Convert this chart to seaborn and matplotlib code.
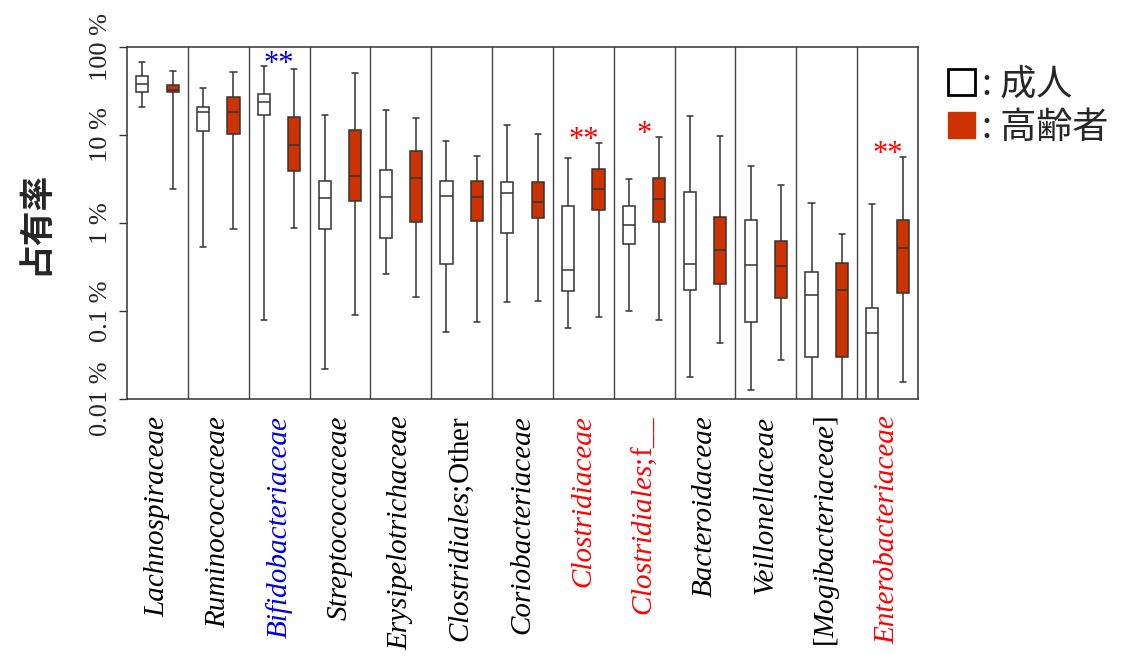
import numpy as np
import pandas as pd
import matplotlib
matplotlib.use("Agg")
import matplotlib.pyplot as plt
import seaborn as sns
from matplotlib.patches import Patch

# Familias (eje x) y colores de etiqueta
familias = [
    r"Lachnospiraceae", r"Ruminococcaceae", r"Bifidobacteriaceae",
    r"Streptococcaceae", r"Erysipelotrichaceae", r"$\mathit{Clostridiales}\mathrm{;\!Other}$",
    r"Coriobacteriaceae", r"Clostridiaceae", r"$\mathit{Clostridiales}\mathrm{;\!f\_\_}$",
    r"Bacteroidaceae", r"Veillonellaceae", r"$\mathrm{[}\mathit{Mogibacteriaceae}\mathrm{]}$",
    r"Enterobacteriaceae",
]
colores_etiqueta = ["black", "black", "#0000e0", "black", "black", "black", "black",
                    "red", "red", "black", "black", "black", "red"]
significancia = ["", "", "**", "", "", "", "", "**", "*", "", "", "", "**"]

# Estadisticos de caja (%): minimo, Q1, mediana, Q3, maximo
adulto_min = [21.0, 0.54, 0.079, 0.022, 0.265, 0.057, 0.128, 0.064, 0.101, 0.018, 0.0125, 0.005, 0.003]
adulto_q1 = [30.8, 11.0, 17.0, 0.86, 0.68, 0.34, 0.77, 0.169, 0.58, 0.173, 0.075, 0.030, 0.005]
adulto_med = [38.3, 18.4, 23.5, 1.92, 1.96, 2.03, 2.19, 0.295, 0.94, 0.342, 0.336, 0.151, 0.056]
adulto_q3 = [46.4, 20.8, 29.5, 3.03, 4.00, 3.03, 2.95, 1.56, 1.56, 2.25, 1.08, 0.277, 0.109]
adulto_max = [67.6, 33.9, 60.3, 16.9, 19.4, 8.47, 12.9, 5.52, 3.16, 16.6, 4.40, 1.67, 1.64]

mayor_min = [2.41, 0.86, 0.88, 0.089, 0.143, 0.075, 0.131, 0.085, 0.079, 0.043, 0.0275, 0.005, 0.0156]
mayor_q1 = [30.8, 10.3, 3.90, 1.79, 1.03, 1.05, 1.13, 1.39, 1.02, 0.203, 0.141, 0.030, 0.160]
mayor_med = [32.2, 18.4, 7.76, 3.45, 3.27, 1.96, 1.75, 2.41, 1.87, 0.498, 0.327, 0.175, 0.520]
mayor_q3 = [37.0, 26.8, 16.0, 11.5, 6.58, 3.03, 2.95, 4.07, 3.25, 1.17, 0.624, 0.351, 1.08]
mayor_max = [53.4, 52.0, 55.7, 50.2, 15.5, 5.72, 10.2, 8.11, 9.57, 9.82, 2.70, 0.750, 5.67]

grupos = ["成人", "高齢者"]
rojo = "#cc3300"
paleta = {"成人": "white", "高齢者": rojo}

# Tabla larga: 5 valores por caja reproducen exactamente los cuartiles
filas = []
for i, fam in enumerate(familias):
    for g, cols in zip(grupos, [(adulto_min, adulto_q1, adulto_med, adulto_q3, adulto_max),
                                (mayor_min, mayor_q1, mayor_med, mayor_q3, mayor_max)]):
        for c in cols:
            filas.append({"familia": fam, "grupo": g, "valor": c[i]})
df = pd.DataFrame(filas)

sns.set_style("white")
plt.rcParams["font.family"] = ["Liberation Serif", "DejaVu Sans"]
plt.rcParams["mathtext.fontset"] = "custom"
plt.rcParams["mathtext.rm"] = "Liberation Serif"
plt.rcParams["mathtext.it"] = "Liberation Serif:italic"

fig = plt.figure(figsize=(11.37, 6.7), dpi=100)
ax = fig.add_axes([0.1117, 0.4045, 0.6957, 0.5254])

sns.boxplot(
    data=df, x="familia", y="valor", hue="grupo", hue_order=grupos,
    palette=paleta, saturation=1, whis=(0, 100), width=1.0, gap=0.6, log_scale=True,
    linecolor="#333333", linewidth=1.1, legend=False, ax=ax,
)

ax.set_ylim(0.01, 100)
ax.set_xlim(-0.5, len(familias) - 0.5)

# Separadores entre familias
for i in range(len(familias) - 1):
    ax.axvline(i + 0.5, color="#444444", lw=1.0, zorder=0)

for s in ax.spines.values():
    s.set_color("#333333")
    s.set_linewidth(1.1)

# Eje y
ax.set_yticks([0.01, 0.1, 1, 10, 100])
ax.set_yticklabels(["0.01 %", "0.1 %", "1 %", "10 %", "100 %"], rotation=90,
                   va="center", fontsize=19, family="Liberation Serif")
ax.yaxis.set_minor_locator(plt.NullLocator())
ax.tick_params(axis="y", which="major", direction="out", length=6, width=1,
               color="#333333", pad=5, left=True)
ax.set_ylabel("占有率", fontsize=25, fontweight="bold",
              family=["Noto Sans CJK JP", "DejaVu Sans"], labelpad=27)

# Eje x
ax.set_xlabel("")
ax.set_xticks(range(len(familias)))
ax.set_xticklabels(familias, rotation=90, fontsize=21, fontstyle="italic",
                   family="Liberation Serif", va="top", ha="center")
for lab, col in zip(ax.get_xticklabels(), colores_etiqueta):
    lab.set_color(col)
ax.tick_params(axis="x", length=0, pad=12)

# Asteriscos de significancia
for i, (sig, col) in enumerate(zip(significancia, colores_etiqueta)):
    if sig:
        tope = max(adulto_max[i], mayor_max[i])
        ax.annotate(sig, xy=(i, tope), xytext=(0, -9), textcoords="offset points",
                    ha="center", va="bottom", color=col, fontsize=22,
                    family="Liberation Serif")

# Leyenda
manejadores = [Patch(facecolor="white", edgecolor="black", linewidth=2),
               Patch(facecolor=rojo, edgecolor=rojo)]
ax.legend(manejadores, [": 成人", ": 高齢者"], loc="upper left",
          bbox_to_anchor=(1.038, 0.945), frameon=False, borderpad=0, borderaxespad=0,
          handlelength=0.75, handleheight=0.75, handletextpad=0.2, labelspacing=0.2,
          prop={"family": ["Noto Sans CJK JP", "DejaVu Sans"], "size": 26})

fig.savefig("out.png", dpi=100)
